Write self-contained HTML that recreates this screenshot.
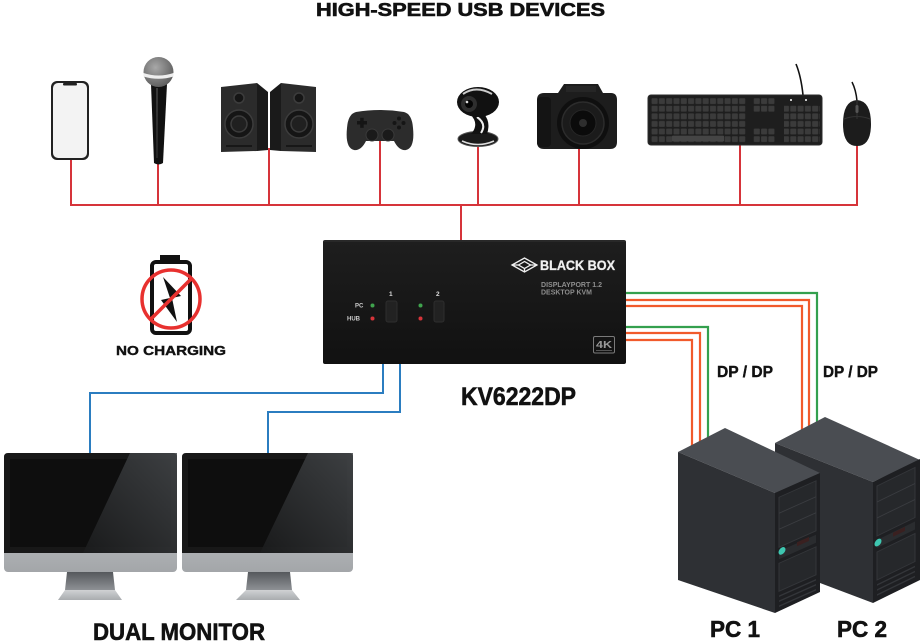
<!DOCTYPE html>
<html><head><meta charset="utf-8"><style>
html,body{margin:0;padding:0;background:#fff;}
svg{display:block;}
text{font-family:"Liberation Sans",Arial,sans-serif;font-weight:bold;}
.hv{stroke:#111;stroke-width:0.6;}
</style></head><body>
<svg width="923" height="641" viewBox="0 0 923 641" xmlns="http://www.w3.org/2000/svg">
<defs>
 <linearGradient id="chin" x1="0" y1="0" x2="0" y2="1"><stop offset="0" stop-color="#dcdee0"/><stop offset="1" stop-color="#a3a6a9"/></linearGradient>
 <linearGradient id="gloss" x1="1" y1="0" x2="0" y2="1"><stop offset="0" stop-color="#45484b"/><stop offset="1" stop-color="#1b1c1d"/></linearGradient>
 <linearGradient id="neck" x1="0" y1="0" x2="0" y2="1"><stop offset="0" stop-color="#55585c"/><stop offset="1" stop-color="#8e9195"/></linearGradient>
 <linearGradient id="base" x1="0" y1="0" x2="0" y2="1"><stop offset="0" stop-color="#d0d2d4"/><stop offset="1" stop-color="#a9acaf"/></linearGradient>
 <radialGradient id="mich" cx="0.4" cy="0.35" r="0.7"><stop offset="0" stop-color="#a8a8a8"/><stop offset="1" stop-color="#5a5a5a"/></radialGradient>
 <linearGradient id="kvm" x1="0" y1="0" x2="0" y2="1"><stop offset="0" stop-color="#1e1e1e"/><stop offset="1" stop-color="#111"/></linearGradient>
 <pattern id="keys" x="651" y="97.5" width="7.3" height="7.6" patternUnits="userSpaceOnUse"><rect x="0.6" y="0.7" width="6" height="5.8" rx="0.8" fill="#3b3b3b"/></pattern>
</defs>

<!-- Title -->
<text class="hv" x="316" y="16" font-size="18" textLength="289" lengthAdjust="spacingAndGlyphs" fill="#111">HIGH-SPEED USB DEVICES</text>

<!-- Red USB lines -->
<g stroke="#d6343a" stroke-width="2" fill="none">
 <path d="M70,205 H858"/>
 <path d="M71,158 V205"/><path d="M158,163 V205"/><path d="M269,148 V205"/>
 <path d="M380,138 V205"/><path d="M478,146 V205"/><path d="M579,148 V205"/>
 <path d="M740,144 V205"/><path d="M857,144 V205"/><path d="M461,205 V241"/>
</g>

<!-- Blue monitor lines -->
<g stroke="#2b7dc0" stroke-width="2" fill="none">
 <path d="M383,363 V393 H90 V454"/>
 <path d="M400,363 V412 H268 V454"/>
</g>

<!-- DP lines -->
<g stroke-width="2.2" fill="none">
 <path d="M625,293 H817 V422" stroke="#34a04e"/>
 <path d="M625,300 H809 V426" stroke="#f15a2b"/>
 <path d="M625,306 H802 V430" stroke="#f15a2b"/>
 <path d="M625,327 H708 V439" stroke="#34a04e"/>
 <path d="M625,333 H700 V443" stroke="#f15a2b"/>
 <path d="M625,340 H692 V447" stroke="#f15a2b"/>
</g>

<!-- Phone -->
<rect x="51" y="81" width="38" height="79" rx="6" fill="#222"/>
<rect x="53" y="83" width="34" height="75" rx="5" fill="#f3f3f3"/>
<rect x="63" y="83" width="14" height="2.5" rx="1" fill="#222"/>

<!-- Mic -->
<path d="M151,84 L167,84 L163,163 Q158.5,166 154,163 Z" fill="#111"/>
<path d="M156,88 L158,88 L157.5,158 L156.5,158 Z" fill="#3a3a3a"/>
<circle cx="158.5" cy="72" r="15" fill="url(#mich)"/>
<path d="M143.5,73 Q158.5,78 173.5,73 L173.5,76.5 Q158.5,81 143.5,76.5 Z" fill="#eee"/>

<!-- Speakers -->
<polygon points="221,87 257,83 257,151 221,152" fill="#2b2b2b"/>
<polygon points="257,83 268,92 268,150 257,151" fill="#1a1a1a"/>
<polygon points="270,92 281,83 281,151 270,150" fill="#1a1a1a"/>
<polygon points="281,83 316,87 316,152 281,151" fill="#2b2b2b"/>
<g stroke="#3c3c3c" stroke-width="1.5">
 <circle cx="239" cy="124" r="14" fill="#151515"/><circle cx="239" cy="124" r="8" fill="#202020"/>
 <circle cx="239" cy="98" r="5" fill="#151515"/>
 <circle cx="299" cy="124" r="14" fill="#151515"/><circle cx="299" cy="124" r="8" fill="#202020"/>
 <circle cx="299" cy="98" r="5" fill="#151515"/>
</g>
<path d="M226,146 H252 M286,146 H312" stroke="#111" stroke-width="1.5"/>

<!-- Gamepad -->
<path d="M356,112 Q380,108 404,112 Q412,114 413,128 Q415,148 406,150 Q399,151 394,141 L366,141 Q361,151 354,150 Q345,148 347,128 Q348,114 356,112 Z" fill="#2c2c2c"/>
<g fill="#151515">
 <rect x="357" y="121" width="10" height="3.5"/><rect x="360.2" y="117.8" width="3.5" height="10"/>
 <circle cx="399" cy="118.5" r="2"/><circle cx="399" cy="127.5" r="2"/><circle cx="394.5" cy="123" r="2"/><circle cx="403.5" cy="123" r="2"/>
</g>
<circle cx="372" cy="135" r="6" fill="#1a1a1a" stroke="#3a3a3a"/>
<circle cx="388" cy="135" r="6" fill="#1a1a1a" stroke="#3a3a3a"/>

<!-- Webcam -->
<ellipse cx="478" cy="139" rx="20" ry="7.5" fill="#1a1a1a" stroke="#555" stroke-width="1"/>
<path d="M462,141 Q478,148 494,141" stroke="#ddd" stroke-width="1.6" fill="none"/>
<path d="M470,114 Q480,124 471,134 L487,134 Q491,122 484,114 Z" fill="#111"/>
<path d="M477,117 Q487,124 481,133" stroke="#eee" stroke-width="2" fill="none"/>
<ellipse cx="478" cy="102" rx="21" ry="15" fill="#111"/>
<path d="M463,94 Q476,85 492,94" stroke="#ccc" stroke-width="2" fill="none"/>
<circle cx="469" cy="104" r="8" fill="#2e2e2e"/>
<circle cx="469" cy="104" r="4" fill="#050505"/>
<circle cx="467" cy="102" r="1.3" fill="#ddd"/>

<!-- Camera -->
<path d="M537,100 Q537,93 544,93 L558,93 L564,84 L598,84 L603,93 L611,93 Q617,93 617,100 L617,142 Q617,149 610,149 L544,149 Q537,149 537,142 Z" fill="#1d1d1d"/>
<rect x="537" y="97" width="14" height="50" rx="4" fill="#141414"/>
<rect x="566" y="86" width="30" height="6" fill="#262626"/>
<circle cx="583" cy="123" r="26" fill="#0f0f0f"/>
<circle cx="583" cy="123" r="21" fill="#1b1b1b" stroke="#2c2c2c" stroke-width="1.5"/>
<circle cx="583" cy="123" r="13" fill="#0b0b0b" stroke="#262626"/>
<circle cx="583" cy="123" r="4" fill="#2e2e2e"/>

<!-- Keyboard -->
<path d="M803,95 Q801,76 796,64" stroke="#111" stroke-width="1.6" fill="none"/>
<rect x="648" y="95" width="174" height="50" rx="3" fill="#1e1e1e" stroke="#2c2c2c"/>
<rect x="651" y="97.5" width="95" height="45.6" fill="url(#keys)"/>
<rect x="753" y="97.5" width="22" height="15.2" fill="url(#keys)"/>
<rect x="753" y="127" width="22" height="15.2" fill="url(#keys)"/>
<rect x="784" y="105" width="36" height="38" fill="url(#keys)"/>
<rect x="672" y="135.6" width="52" height="5.8" rx="0.8" fill="#454545"/>
<circle cx="791" cy="100" r="1" fill="#fff"/><circle cx="806" cy="100" r="1" fill="#fff"/>

<!-- Mouse -->
<path d="M857,101 Q856,90 852,82" stroke="#111" stroke-width="1.5" fill="none"/>
<path d="M857,100 Q871,101 871,124 Q871,146 857,146 Q843,146 843,124 Q843,101 857,100 Z" fill="#1c1c1c"/>
<path d="M857,100 V119 M844,119 Q857,114 870,119" stroke="#333" fill="none"/>
<rect x="855.5" y="105" width="3" height="8" rx="1.5" fill="#555"/>

<!-- No charging -->
<rect x="160" y="255" width="20" height="7" fill="#111"/>
<rect x="152" y="262" width="38" height="71" rx="4" fill="none" stroke="#111" stroke-width="4"/>
<polygon points="163,277 181,296 172,298 177,322 161,300 170,298" fill="#111"/>
<circle cx="171" cy="299" r="29" fill="none" stroke="#e8312f" stroke-width="3.5"/>
<path d="M191.5,278.5 L150.5,319.5" stroke="#e8312f" stroke-width="3.5"/>
<text class="hv" style="stroke-width:0.4" x="116" y="355" font-size="13" textLength="110" lengthAdjust="spacingAndGlyphs" fill="#111">NO CHARGING</text>

<!-- KVM -->
<rect x="323" y="240" width="303" height="124" rx="2" fill="url(#kvm)"/>
<path d="M324,241 H625" stroke="#333" stroke-width="1"/>
<g fill="none" stroke="#f0f0f0" stroke-width="1.3">
 <polygon points="512,265 524.5,258 537,265 524.5,272"/>
 <polygon points="518.5,265 524.5,261.5 530.5,265 524.5,268.5"/>
 <path d="M524.5,268.5 V272 M518.5,265 L512,265 M530.5,265 L537,265"/>
</g>
<text x="540" y="270" font-size="14" textLength="75" lengthAdjust="spacingAndGlyphs" fill="#f0f0f0" stroke="#f0f0f0" stroke-width="0.3">BLACK BOX</text>
<text x="541" y="287" font-size="7.5" textLength="61" lengthAdjust="spacingAndGlyphs" fill="#8e8e8e">DISPLAYPORT 1.2</text>
<text x="541" y="294.5" font-size="7.5" textLength="51" lengthAdjust="spacingAndGlyphs" fill="#8e8e8e">DESKTOP KVM</text>
<text x="355" y="307.5" font-size="6" fill="#ccc">PC</text>
<text x="347" y="320.5" font-size="6" fill="#ccc">HUB</text>
<text x="389" y="296" font-size="6.5" fill="#ddd">1</text>
<text x="436" y="296" font-size="6.5" fill="#ddd">2</text>
<circle cx="372.5" cy="305.5" r="2" fill="#3fa34d"/>
<circle cx="372.5" cy="318.5" r="2" fill="#d6343a"/>
<circle cx="420.5" cy="305.5" r="2" fill="#3fa34d"/>
<circle cx="420.5" cy="318.5" r="2" fill="#d6343a"/>
<rect x="386" y="301" width="11" height="21" rx="2" fill="#222" stroke="#2e2e2e"/>
<rect x="434" y="301" width="10" height="21" rx="2" fill="#222" stroke="#2e2e2e"/>
<rect x="593.5" y="336.5" width="21" height="16.5" rx="1.5" fill="none" stroke="#7a7a7a"/>
<text x="596" y="348" font-size="10.5" textLength="16" lengthAdjust="spacingAndGlyphs" fill="#9a9a9a">4K</text>
<path d="M596,350.5 H612" stroke="#666" stroke-width="0.8"/>

<text class="hv" x="461" y="405" font-size="25" textLength="115" lengthAdjust="spacingAndGlyphs" fill="#111">KV6222DP</text>

<!-- DP labels -->
<text class="hv" style="stroke-width:0.4" x="717" y="377" font-size="16" textLength="56" lengthAdjust="spacingAndGlyphs" fill="#111">DP / DP</text>
<text class="hv" style="stroke-width:0.4" x="823" y="377" font-size="16" textLength="55" lengthAdjust="spacingAndGlyphs" fill="#111">DP / DP</text>

<!-- PC2 -->
<polygon points="775,443 825,417 920,460 873,482" fill="#4a4d52"/>
<polygon points="775,443 873,482 873,603 775,566" fill="#2e3034"/>
<polygon points="873,482 920,459 920,580 873,603" fill="#1e1f22"/>
<g transform="matrix(1,-0.489,0,1,873,482)">
 <rect x="4" y="6" width="38" height="50" fill="#26282b" stroke="#34363a"/>
 <path d="M4,22 H42 M4,38 H42" stroke="#3a3c40"/>
 <rect x="4" y="60" width="38" height="8" fill="#2a2c2f"/>
 <circle cx="5" cy="63" r="3.5" fill="#3ec6b0"/>
 <rect x="20" y="60.5" width="12" height="4" fill="#3a2020"/>
 <rect x="4" y="72" width="38" height="28" fill="#26282b" stroke="#34363a"/>
 <path d="M4,105 H42 M4,110 H42 M4,115 H42" stroke="#34363a" stroke-width="1.5"/>
</g>

<!-- PC1 -->
<polygon points="678,452 725,428 820,473 775,493" fill="#4a4d52"/>
<polygon points="678,452 775,493 775,613 678,580" fill="#2e3034"/>
<polygon points="775,493 820,473 820,592 775,613" fill="#1e1f22"/>
<g transform="matrix(1,-0.444,0,1,775,493)">
 <rect x="4" y="6" width="37" height="50" fill="#26282b" stroke="#34363a"/>
 <path d="M4,22 H41 M4,38 H41" stroke="#3a3c40"/>
 <rect x="4" y="60" width="37" height="8" fill="#2a2c2f"/>
 <circle cx="7" cy="61" r="3.5" fill="#3ec6b0"/>
 <rect x="22" y="59" width="12" height="4" fill="#3a2020"/>
 <rect x="4" y="72" width="37" height="28" fill="#26282b" stroke="#34363a"/>
 <path d="M4,105 H41 M4,110 H41 M4,115 H41" stroke="#34363a" stroke-width="1.5"/>
</g>

<text class="hv" x="710" y="637" font-size="23" textLength="50" lengthAdjust="spacingAndGlyphs" fill="#111">PC 1</text>
<text class="hv" x="837" y="637" font-size="23" textLength="50" lengthAdjust="spacingAndGlyphs" fill="#111">PC 2</text>

<!-- Monitor 1 -->
<rect x="4" y="453" width="173" height="119" rx="4" fill="url(#chin)"/>
<path d="M4,553 V457 Q4,453 8,453 H173 Q177,453 177,457 V553 Z" fill="#181818"/>
<rect x="10" y="459" width="161" height="88" fill="#0e0e0e"/>
<polygon points="130,453 177,453 177,553 83,553" fill="url(#gloss)" opacity="0.85"/>
<polygon points="67,572 113,572 115,590 65,590" fill="url(#neck)"/>
<polygon points="65,590 115,590 122,600 58,600" fill="url(#base)"/>

<!-- Monitor 2 -->
<rect x="182" y="453" width="171" height="119" rx="4" fill="url(#chin)"/>
<path d="M182,553 V457 Q182,453 186,453 H349 Q353,453 353,457 V553 Z" fill="#181818"/>
<rect x="188" y="459" width="159" height="88" fill="#0e0e0e"/>
<polygon points="308,453 353,453 353,553 260,553" fill="url(#gloss)" opacity="0.85"/>
<polygon points="248,572 290,572 292,590 246,590" fill="url(#neck)"/>
<polygon points="246,590 292,590 300,600 236,600" fill="url(#base)"/>

<text class="hv" x="93" y="640" font-size="24" textLength="172" lengthAdjust="spacingAndGlyphs" fill="#111">DUAL MONITOR</text>
</svg>
</body></html>
